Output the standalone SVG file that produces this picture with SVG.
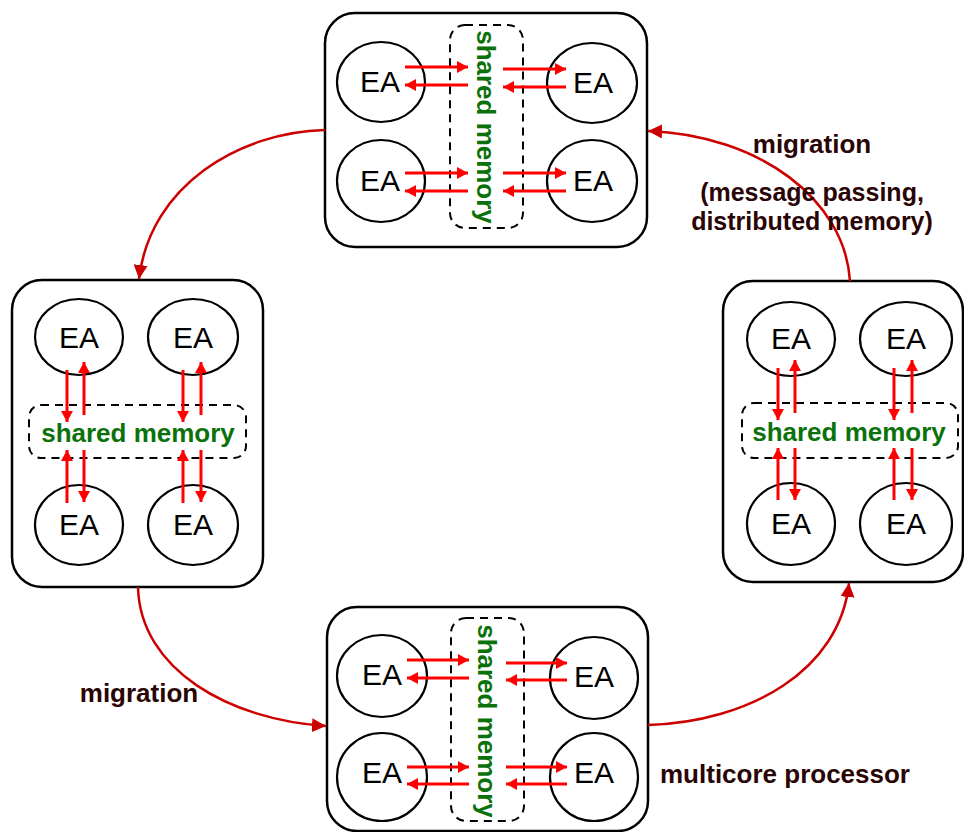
<svg xmlns="http://www.w3.org/2000/svg" width="964" height="832" viewBox="0 0 964 832">
  <style>
    .box { fill: #ffffff; stroke: #000000; stroke-width: 2.5; }
    .core { fill: #ffffff; stroke: #000000; stroke-width: 2.2; }
    .mem { fill: none; stroke: #000000; stroke-width: 2; stroke-dasharray: 8 6; }
    .ea { font-family: "Liberation Sans", Arial, sans-serif; font-size: 30px; fill: #000000; text-anchor: middle; }
    .memtxt { font-family: "Liberation Sans", Arial, sans-serif; font-size: 26px; font-weight: bold; fill: #0b720b; text-anchor: middle; }
    .lbl { font-family: "Liberation Sans", Arial, sans-serif; font-size: 26px; font-weight: bold; fill: #2a0505; text-anchor: middle; }
    .lbl.small { font-size: 25px; }
    .acc { stroke: #ff0000; stroke-width: 3; fill: none; marker-end: url(#accHead); }
    .mig { stroke: #cc0000; stroke-width: 2.5; fill: none; marker-end: url(#migHead); }
  </style>
  <defs>
    <marker id="accHead" markerUnits="userSpaceOnUse" markerWidth="11" markerHeight="12" refX="11" refY="6" orient="auto">
      <path d="M0,0 L11,6 L0,12 z" fill="#ff0000"/>
    </marker>
    <marker id="migHead" markerUnits="userSpaceOnUse" markerWidth="14" markerHeight="14" refX="14" refY="7" orient="auto">
      <path d="M0,0 L14,7 L0,14 z" fill="#cc0000"/>
    </marker>
  </defs>

  <rect width="964" height="832" fill="#ffffff"/>

  <!-- processor at the top: shared memory in a vertical column -->
  <g id="node-top">
    <rect class="box" x="325" y="13" width="322" height="234" rx="30"/>
    <ellipse class="core" cx="381" cy="82" rx="44" ry="40"/>
    <ellipse class="core" cx="592" cy="83" rx="45" ry="40"/>
    <ellipse class="core" cx="381" cy="181" rx="44" ry="41"/>
    <ellipse class="core" cx="592" cy="181" rx="45" ry="41"/>
    <text class="ea" x="380" y="92">EA</text>
    <text class="ea" x="593" y="93">EA</text>
    <text class="ea" x="380" y="191">EA</text>
    <text class="ea" x="593" y="191">EA</text>
    <rect class="mem" x="450" y="25" width="73" height="203" rx="15"/>
    <text class="memtxt" transform="translate(477,127) rotate(90)">shared memory</text>
    <path class="acc" d="M405,67 H468"/>
    <path class="acc" d="M468,85 H405"/>
    <path class="acc" d="M503,69 H566"/>
    <path class="acc" d="M566,87 H503"/>
    <path class="acc" d="M405,173 H468"/>
    <path class="acc" d="M468,191 H405"/>
    <path class="acc" d="M503,173 H566"/>
    <path class="acc" d="M566,191 H503"/>
  </g>

  <!-- processor on the left: shared memory in a horizontal band -->
  <g id="node-left">
    <rect class="box" x="12" y="280" width="251" height="307" rx="30"/>
    <ellipse class="core" cx="79" cy="337" rx="44" ry="38"/>
    <ellipse class="core" cx="193" cy="337" rx="45" ry="38"/>
    <ellipse class="core" cx="79" cy="525" rx="44" ry="40"/>
    <ellipse class="core" cx="193" cy="525" rx="45" ry="40"/>
    <text class="ea" x="79" y="348">EA</text>
    <text class="ea" x="193" y="348">EA</text>
    <text class="ea" x="79" y="535">EA</text>
    <text class="ea" x="193" y="535">EA</text>
    <rect class="mem" x="29" y="405" width="217" height="53" rx="12"/>
    <text class="memtxt" x="138" y="442">shared memory</text>
    <path class="acc" d="M67,370 V422"/>
    <path class="acc" d="M84,415 V362"/>
    <path class="acc" d="M67,503 V450"/>
    <path class="acc" d="M84,450 V502"/>
    <path class="acc" d="M183,370 V422"/>
    <path class="acc" d="M201,415 V362"/>
    <path class="acc" d="M183,503 V450"/>
    <path class="acc" d="M201,450 V502"/>
  </g>

  <!-- processor on the right -->
  <g id="node-right">
    <rect class="box" x="723" y="281" width="240" height="301" rx="30"/>
    <ellipse class="core" cx="791" cy="339" rx="44" ry="37"/>
    <ellipse class="core" cx="906" cy="339" rx="46" ry="37"/>
    <ellipse class="core" cx="791" cy="524" rx="44" ry="41"/>
    <ellipse class="core" cx="906" cy="524" rx="46" ry="41"/>
    <text class="ea" x="791" y="349">EA</text>
    <text class="ea" x="906" y="349">EA</text>
    <text class="ea" x="791" y="534">EA</text>
    <text class="ea" x="906" y="534">EA</text>
    <rect class="mem" x="742" y="403" width="216" height="55" rx="12"/>
    <text class="memtxt" x="849" y="441">shared memory</text>
    <path class="acc" d="M778,368 V420"/>
    <path class="acc" d="M795,413 V360"/>
    <path class="acc" d="M778,500 V448"/>
    <path class="acc" d="M795,448 V500"/>
    <path class="acc" d="M894,368 V420"/>
    <path class="acc" d="M912,413 V360"/>
    <path class="acc" d="M894,500 V448"/>
    <path class="acc" d="M912,448 V500"/>
  </g>

  <!-- processor at the bottom (runs past the lower edge) -->
  <g id="node-bottom">
    <rect class="box" x="327" y="607" width="321" height="224" rx="30"/>
    <ellipse class="core" cx="382" cy="676" rx="45" ry="41"/>
    <ellipse class="core" cx="594" cy="678" rx="44" ry="41"/>
    <ellipse class="core" cx="382" cy="777" rx="45" ry="44"/>
    <ellipse class="core" cx="594" cy="777" rx="44" ry="44"/>
    <text class="ea" x="382" y="685">EA</text>
    <text class="ea" x="594" y="687">EA</text>
    <text class="ea" x="382" y="783">EA</text>
    <text class="ea" x="594" y="783">EA</text>
    <rect class="mem" x="451" y="618" width="73" height="203" rx="15"/>
    <text class="memtxt" transform="translate(478,721) rotate(90)">shared memory</text>
    <path class="acc" d="M407,660 H469"/>
    <path class="acc" d="M469,678 H407"/>
    <path class="acc" d="M506,663 H567"/>
    <path class="acc" d="M567,680 H506"/>
    <path class="acc" d="M407,767 H469"/>
    <path class="acc" d="M469,784 H407"/>
    <path class="acc" d="M506,767 H567"/>
    <path class="acc" d="M567,784 H506"/>
  </g>

  <!-- migration ring between the processors -->
  <g id="connectors">
    <path class="mig" d="M325,130 C240,132 150,185 139,279"/>
    <path class="mig" d="M138,587 C140,670 230,720 326,726"/>
    <path class="mig" d="M648,725 C750,722 840,670 849,583"/>
    <path class="mig" d="M850,281 C845,200 760,135 648,131"/>
  </g>

  <g id="labels">
    <text class="lbl" x="812" y="153">migration</text>
    <text class="lbl small" x="812" y="201">(message passing,</text>
    <text class="lbl small" x="812" y="230">distributed memory)</text>
    <text class="lbl" x="139" y="702">migration</text>
    <text class="lbl" x="785" y="783">multicore processor</text>
  </g>
</svg>
